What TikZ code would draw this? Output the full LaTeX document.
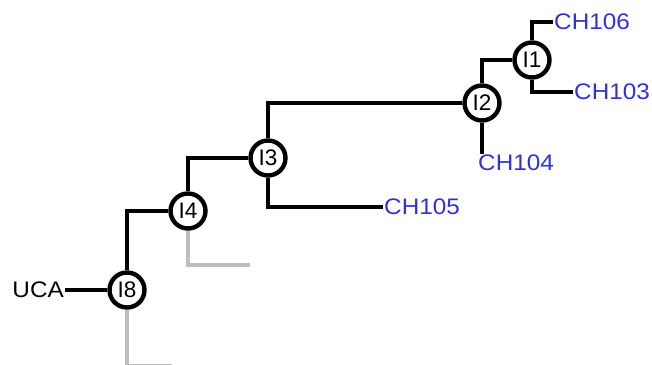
\documentclass[tikz,border=0pt]{standalone}
\usepackage{fontspec}
\setmainfont{Liberation Sans}
\definecolor{leafblue}{RGB}{48,48,220}
\definecolor{lightgray}{RGB}{190,190,190}
\newcommand{\wtxt}[1]{\scalebox{1.08}[1]{#1}}
\begin{document}
\begin{tikzpicture}[x=1pt,y=-1pt,
  inode/.style={circle,draw=black,line width=4.4pt,fill=white,minimum size=35pt,inner sep=0pt,font=\fontsize{22.5}{24}\selectfont},
  leaf/.style={text=leafblue,inner sep=1pt,font=\fontsize{22.5}{24}\selectfont},
  rootlab/.style={text=black,inner sep=1pt,font=\fontsize{22.5}{24}\selectfont},
  branch/.style={line width=3.6pt,black},
  ghost/.style={line width=3.6pt,lightgray}]
\useasboundingbox (0,0) rectangle (652,364);
% internal nodes
\node[inode] (i8) at (127,290) {I8};
\node[inode] (i4) at (188,211) {I4};
\node[inode] (i3) at (268,158) {I3};
\node[inode] (i2) at (482,103) {I2};
\node[inode] (i1) at (532,60) {I1};
% labels
\node[rootlab,anchor=east] (uca) at (65,290) {\wtxt{UCA}};
\node[leaf,anchor=west] (ch105) at (383,207) {\wtxt{CH105}};
\node[leaf,anchor=north west] (ch104) at (477,154) {\wtxt{CH104}};
\node[leaf,anchor=west] (ch106) at (553,22) {\wtxt{CH106}};
\node[leaf,anchor=west] (ch103) at (573,92) {\wtxt{CH103}};
\coordinate (g4) at (250,265);
\coordinate (g8) at (172,365.5);
% connectors
\draw[branch] (uca.east) -- (i8.west);
\draw[branch] (i8.north) |- (i4.west);
\draw[branch] (i4.north) |- (i3.west);
\draw[branch] (i3.north) |- (i2.west);
\draw[branch] (i3.south) |- (ch105.west);
\draw[branch] (i2.north) |- (i1.west);
\draw[branch] (i2.south) -- (i2.south |- ch104.north);
\draw[branch] (i1.north) |- (ch106.west);
\draw[branch] (i1.south) |- (ch103.west);
\draw[ghost] (i4.south) |- (g4);
\draw[ghost] (i8.south) |- (g8);
\end{tikzpicture}
\end{document}
